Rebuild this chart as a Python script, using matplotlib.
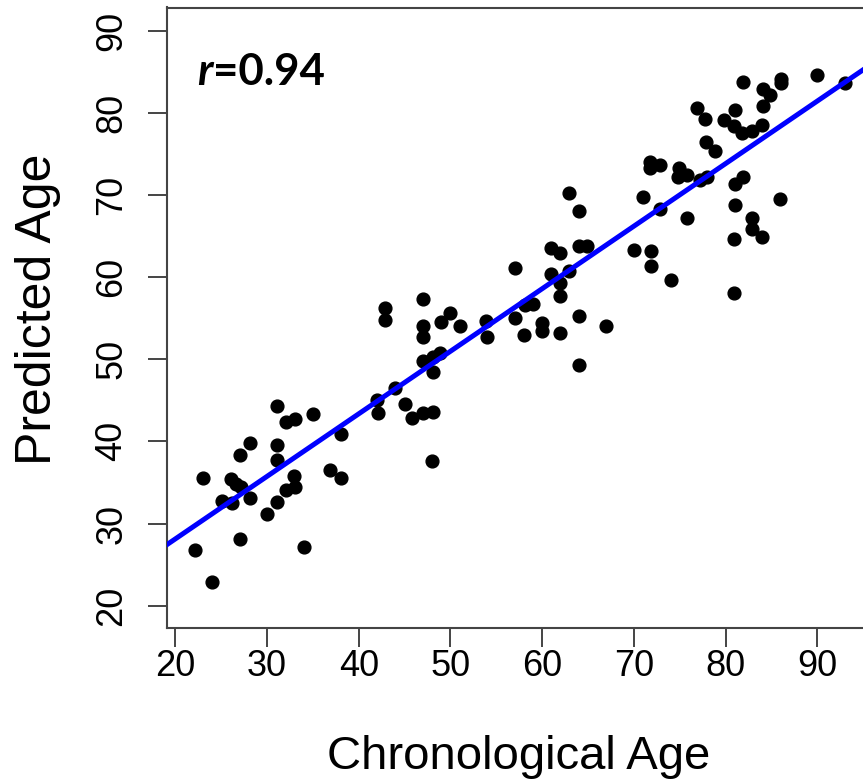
import matplotlib
matplotlib.use("Agg")
import matplotlib.pyplot as plt

# chronological vs predicted age
chrono_age = [22.2, 24.0, 23.0, 25.1, 26.2, 26.1, 26.6, 27.2, 28.1, 27.1,
              28.1, 27.0, 30.0, 31.1, 31.1, 31.1, 31.1, 32.1, 33.1, 35.0,
              32.9, 32.1, 33.0, 34.0, 36.9, 38.1, 38.1, 42.0, 42.1, 44.0,
              45.1, 45.8, 64.0, 61.0, 61.9, 64.0, 64.9, 57.0, 61.0, 62.9,
              61.9, 61.9, 47.0, 58.1, 59.0, 50.0, 49.0, 47.0, 51.0, 53.9,
              57.0, 64.0, 67.0, 47.0, 54.0, 58.0, 60.0, 60.0, 61.9, 64.0,
              47.0, 48.1, 48.9, 48.1, 47.0, 48.1, 48.0, 62.9, 42.9, 42.9,
              81.9, 86.0, 86.0, 90.0, 93.0, 84.1, 84.9, 84.1, 76.9, 77.8,
              81.0, 79.8, 80.9, 81.8, 82.9, 84.0, 77.9, 78.9, 71.8, 72.9,
              71.8, 74.9, 75.8, 77.2, 78.0, 74.8, 81.0, 81.9, 71.0, 72.9,
              81.0, 85.9, 75.8, 82.9, 82.9, 84.0, 80.9, 70.0, 71.9, 71.9,
              74.0, 80.9]
pred_age = [26.8, 22.9, 35.5, 32.8, 32.5, 35.4, 34.8, 34.4, 33.1, 38.3,
            39.8, 28.1, 31.2, 32.6, 37.7, 39.6, 44.3, 42.4, 42.7, 43.3,
            35.8, 34.1, 34.5, 27.2, 36.5, 35.5, 40.9, 45.0, 43.4, 46.5,
            44.6, 42.9, 68.1, 63.5, 62.9, 63.8, 63.8, 61.1, 60.4, 60.7,
            59.3, 57.7, 57.4, 56.6, 56.7, 55.6, 54.6, 54.1, 54.0, 54.7,
            55.0, 55.3, 54.0, 52.7, 52.7, 52.9, 54.4, 53.4, 53.2, 49.3,
            49.8, 50.3, 50.8, 48.5, 43.4, 43.6, 37.6, 70.2, 56.2, 54.8,
            83.8, 84.1, 83.6, 84.6, 83.6, 82.9, 82.2, 80.8, 80.6, 79.3,
            80.4, 79.1, 78.4, 77.5, 77.8, 78.5, 76.4, 75.3, 74.0, 73.7,
            73.3, 73.3, 72.4, 71.8, 72.2, 72.2, 71.4, 72.2, 69.8, 68.3,
            68.8, 69.5, 67.2, 67.2, 65.9, 64.9, 64.7, 63.3, 63.2, 61.4,
            59.7, 58.1]

x_ticks = [20, 30, 40, 50, 60, 70, 80, 90]
y_ticks = [20, 30, 40, 50, 60, 70, 80, 90]

# regression line as drawn in the figure
fit_intercept = 12.9
fit_slope = 0.7615
r_label = "0.94"

W, H = 863, 783
fig = plt.figure(figsize=(W / 100, H / 100), dpi=100)
# plot box runs slightly past the right edge of the image, like the original crop
ax = fig.add_axes([166.7 / W, 155.3 / H, 704.1 / W, 620.2 / H])

ax.plot(chrono_age, pred_age, "o", color="black", markersize=9.2, zorder=2)
ax.axline((0, fit_intercept), slope=fit_slope, color="#0000ff", lw=3.6, zorder=3)

ax.set_xlim(19.06, 95.84)
ax.set_ylim(17.32, 92.83)

font = "Liberation Sans"
ax.set_xticks(x_ticks)
ax.set_yticks(y_ticks)
ax.set_xticklabels([str(t) for t in x_ticks], fontfamily=font, fontsize=26)
ax.set_yticklabels([str(t) for t in y_ticks], fontfamily=font, fontsize=26,
                   rotation=90, va="center")
ax.tick_params(axis="x", direction="out", length=13.7, width=1.4,
               color="#444444", pad=1.5)
ax.tick_params(axis="y", direction="out", length=13.7, width=1.4,
               color="#444444", pad=13)
for sp in ax.spines.values():
    sp.set_color("#444444")
    sp.set_linewidth(1.5)

ax.set_xlabel("Chronological Age", fontfamily=font, fontsize=34)
ax.xaxis.set_label_coords(0.5, -0.228)
ax.xaxis.label.set_va("baseline")
ax.set_ylabel("Predicted Age", fontfamily=font, fontsize=36)
ax.yaxis.set_label_coords(-0.150, 0.514)

# "r=0.94" with an italic r
t1 = ax.text(0.0435, 0.875, "r", transform=ax.transAxes, fontfamily="Lato",
             fontweight="bold", fontstyle="italic", fontsize=31.5, va="baseline")
fig.canvas.draw()
bb = t1.get_window_extent()
x_next = ax.transAxes.inverted().transform((bb.x1, bb.y0))[0]
ax.text(x_next, 0.875, "=" + r_label, transform=ax.transAxes, fontfamily="Lato",
        fontweight="bold", fontsize=31.5, va="baseline")

fig.savefig("out.png", dpi=100)
